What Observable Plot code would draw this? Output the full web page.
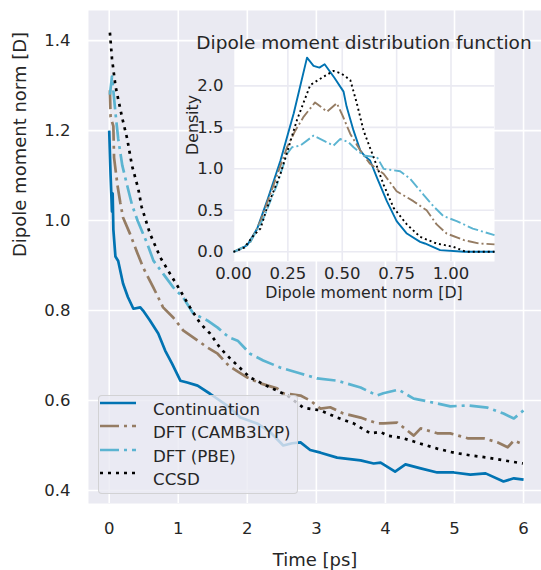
<!DOCTYPE html>
<html>
<head>
<meta charset="utf-8">
<script src="https://cdn.jsdelivr.net/npm/d3@7"></script>
<script src="https://cdn.jsdelivr.net/npm/@observablehq/plot@0.6"></script>
<style>
  body { margin: 0; background: #ffffff; font-family: "DejaVu Sans", sans-serif; }
  #chart { position: relative; width: 541px; height: 570px; overflow: hidden; }
  #chart svg { position: absolute; left: 0; top: 0; }
  .legend {
    position: absolute; left: 98px; top: 395px; width: 200px; height: 99px;
    box-sizing: border-box; background: rgba(234, 234, 242, 0.8);
    border: 1px solid rgba(204, 204, 204, 0.8); border-radius: 4px;
  }
  .legend .row { position: absolute; left: 0; height: 22px; width: 100%; }
  .legend .row svg { position: absolute; left: 5px; top: 6px; }
  .legend .row span {
    position: absolute; left: 54px; top: 0; line-height: 22px;
    font-size: 16.7px; color: #262626; white-space: nowrap;
  }
</style>
</head>
<body>
<div id="chart"></div>
<script>
// Dipole moment norm [D] over time [ps], one [time, value] pair per point
const continuation = [
  [0.0, 1.20], [0.02, 1.10], [0.04, 1.02], [0.05, 1.06], [0.06, 0.98], [0.09, 0.92],
  [0.13, 0.91], [0.20, 0.86], [0.27, 0.83], [0.35, 0.804], [0.45, 0.807], [0.49, 0.80],
  [0.59, 0.778], [0.71, 0.749], [0.81, 0.711], [0.91, 0.682], [1.03, 0.644], [1.13, 0.64],
  [1.28, 0.633], [1.46, 0.615], [1.75, 0.584], [1.90, 0.562], [2.14, 0.549], [2.33, 0.53],
  [2.52, 0.50], [2.65, 0.505], [2.77, 0.507], [2.91, 0.49], [3.06, 0.484], [3.30, 0.473],
  [3.64, 0.467], [3.83, 0.46], [3.93, 0.462], [4.14, 0.442], [4.29, 0.458], [4.51, 0.449],
  [4.75, 0.44], [4.99, 0.44], [5.23, 0.435], [5.45, 0.438], [5.71, 0.42], [5.86, 0.427],
  [6.0, 0.424]
];
const dftCamb3lyp = [
  [0.01, 1.29], [0.02, 1.23], [0.06, 1.21], [0.07, 1.14], [0.12, 1.078], [0.16, 1.04],
  [0.20, 1.007], [0.30, 0.971], [0.41, 0.927], [0.49, 0.896], [0.64, 0.851], [0.78, 0.807],
  [0.93, 0.784], [1.07, 0.756], [1.22, 0.74], [1.42, 0.718], [1.57, 0.704], [1.74, 0.676],
  [2.00, 0.651], [2.19, 0.638], [2.43, 0.627], [2.52, 0.616], [2.77, 0.611], [2.91, 0.60],
  [3.06, 0.582], [3.20, 0.585], [3.39, 0.571], [3.64, 0.562], [3.88, 0.549], [3.97, 0.549],
  [4.17, 0.551], [4.41, 0.522], [4.51, 0.538], [4.75, 0.527], [4.94, 0.527], [5.19, 0.516],
  [5.42, 0.516], [5.62, 0.507], [5.77, 0.496], [5.86, 0.511], [6.0, 0.502]
];
const dftPbe = [
  [0.01, 1.28], [0.04, 1.32], [0.09, 1.24], [0.13, 1.182], [0.19, 1.122], [0.26, 1.078],
  [0.33, 1.035], [0.41, 1.0], [0.55, 0.949], [0.64, 0.911], [0.78, 0.882], [0.93, 0.851],
  [1.07, 0.829], [1.22, 0.793], [1.42, 0.778], [1.57, 0.762], [1.65, 0.751], [1.74, 0.74],
  [1.86, 0.733], [2.04, 0.704], [2.23, 0.689], [2.48, 0.673], [2.77, 0.66], [3.01, 0.649],
  [3.30, 0.644], [3.64, 0.629], [3.88, 0.611], [3.97, 0.616], [4.19, 0.624], [4.41, 0.604],
  [4.61, 0.598], [4.94, 0.587], [5.19, 0.589], [5.48, 0.584], [5.71, 0.571], [5.86, 0.56],
  [6.0, 0.578]
];
const ccsd = [
  [0.01, 1.418], [0.04, 1.36], [0.09, 1.30], [0.13, 1.27], [0.19, 1.227], [0.26, 1.182],
  [0.33, 1.122], [0.42, 1.071], [0.47, 1.03], [0.59, 0.971], [0.74, 0.918], [0.88, 0.882],
  [1.03, 0.844], [1.17, 0.807], [1.32, 0.771], [1.46, 0.749], [1.61, 0.716], [1.76, 0.692],
  [2.04, 0.651], [2.33, 0.629], [2.58, 0.611], [2.81, 0.584], [3.06, 0.578], [3.30, 0.562],
  [3.54, 0.549], [3.78, 0.527], [3.93, 0.53], [4.03, 0.522], [4.26, 0.516], [4.51, 0.504],
  [4.75, 0.493], [4.99, 0.484], [5.23, 0.478], [5.48, 0.473], [5.71, 0.467], [5.99, 0.46]
];

// Density of the dipole moment norm, one [norm, density] pair per point
const continuationKde = [
  [0, 0], [0.03, 0.03], [0.063, 0.08], [0.109, 0.28], [0.154, 0.61], [0.216, 1.10],
  [0.277, 1.67], [0.338, 2.34], [0.368, 2.24], [0.395, 2.22], [0.419, 2.26], [0.463, 2.10],
  [0.506, 1.93], [0.52, 1.75], [0.552, 1.46], [0.583, 1.22], [0.605, 1.15], [0.628, 1.10],
  [0.66, 0.89], [0.705, 0.61], [0.75, 0.37], [0.797, 0.22], [0.858, 0.12], [0.88, 0.10],
  [0.95, 0.02], [1.06, 0.0], [1.2, 0.0]
];
const camb3lypKde = [
  [0, 0], [0.04, 0.05], [0.078, 0.12], [0.124, 0.37], [0.185, 0.81], [0.246, 1.26],
  [0.284, 1.46], [0.323, 1.63], [0.375, 1.80], [0.43, 1.69], [0.475, 1.79], [0.5, 1.65],
  [0.537, 1.42], [0.583, 1.22], [0.628, 1.06], [0.69, 0.94], [0.75, 0.73], [0.827, 0.61],
  [0.888, 0.50], [0.934, 0.33], [0.98, 0.22], [1.06, 0.14], [1.13, 0.10], [1.2, 0.09]
];
const pbeKde = [
  [0, 0], [0.04, 0.05], [0.078, 0.12], [0.139, 0.41], [0.2, 0.81], [0.246, 1.18],
  [0.269, 1.26], [0.307, 1.28], [0.368, 1.40], [0.414, 1.34], [0.46, 1.28], [0.491, 1.36],
  [0.529, 1.32], [0.552, 1.26], [0.598, 1.16], [0.66, 1.14], [0.69, 1.0], [0.766, 0.97],
  [0.812, 0.88], [0.873, 0.69], [0.919, 0.55], [0.965, 0.43], [1.026, 0.37], [1.1, 0.28],
  [1.2, 0.20]
];
const ccsdKde = [
  [0, 0], [0.05, 0.05], [0.093, 0.2], [0.124, 0.28], [0.154, 0.53], [0.216, 0.94],
  [0.292, 1.59], [0.353, 2.01], [0.414, 2.11], [0.46, 2.18], [0.495, 2.15], [0.537, 2.07],
  [0.567, 1.79], [0.598, 1.46], [0.644, 1.14], [0.69, 0.81], [0.736, 0.53], [0.797, 0.33],
  [0.858, 0.18], [0.934, 0.10], [1.01, 0.06], [1.07, 0.0], [1.2, 0.0]
];

// Tick values
const timeTicks = [0, 1, 2, 3, 4, 5, 6];
const momentTicks = [0.4, 0.6, 0.8, 1.0, 1.2, 1.4];
const normTicks = [0, 0.25, 0.5, 0.75, 1.0];
const densityTicks = [0, 0.5, 1.0, 1.5, 2.0];

// Series names and styles
const seriesNames = ["Continuation", "DFT (CAMB3LYP)", "DFT (PBE)", "CCSD"];
const seriesColors = ["#0173b2", "#957c63", "#5bb4d1", "#000000"];
const mainDash = [null, "19,5,3,5", "19,5,3,5", "3,5"];
const insetDash = [null, "11,3,2,3", "11,3,2,3", "2,3"];
const timeSeries = [continuation, dftCamb3lyp, dftPbe, ccsd];
const kdeSeries = [continuationKde, camb3lypKde, pbeKde, ccsdKde];

const ink = "#262626";
const font = "DejaVu Sans";

function lineMarks(seriesList, dashes, width) {
  return seriesList.map((data, i) => Plot.line(data, {
    x: d => d[0], y: d => d[1],
    stroke: seriesColors[i], strokeWidth: width,
    strokeDasharray: dashes[i] ?? undefined,
    strokeLinecap: "butt", strokeLinejoin: "round",
    curve: "linear"
  }));
}

// Time series on the dark grid
const main = Plot.plot({
  width: 541, height: 570,
  marginLeft: 88, marginRight: 0, marginTop: 10, marginBottom: 67,
  style: {fontFamily: font, fontSize: "16.5px", color: ink, background: "transparent", overflow: "visible"},
  x: {domain: [-0.3, 6.26]},
  y: {domain: [0.371, 1.467]},
  marks: [
    Plot.frame({fill: "#eaeaf2", stroke: null}),
    Plot.gridX(timeTicks, {stroke: "#ffffff", strokeOpacity: 1, strokeWidth: 1.6}),
    Plot.gridY(momentTicks, {stroke: "#ffffff", strokeOpacity: 1, strokeWidth: 1.6}),
    Plot.axisX(timeTicks, {tickSize: 0, tickPadding: 19, label: null, tickFormat: d => String(d), fill: ink}),
    Plot.axisY(momentTicks, {tickSize: 0, tickPadding: 18, label: null, tickFormat: d3.format(".1f"), fill: ink}),
    Plot.text(["Time [ps]"], {frameAnchor: "bottom", dy: 62, fontSize: 18, fill: ink}),
    Plot.text(["Dipole moment norm [D]"], {frameAnchor: "left", dx: -68, rotate: -90, fontSize: 18, fill: ink}),
    ...lineMarks(timeSeries, mainDash, 2.7)
  ]
});

// Inset: density of the dipole moment norm
const inset = Plot.plot({
  width: 541, height: 320,
  marginLeft: 233, marginRight: 47, marginTop: 48, marginBottom: 59,
  style: {fontFamily: font, fontSize: "16.5px", color: ink, background: "transparent", overflow: "visible"},
  x: {domain: [0, 1.2]},
  y: {domain: [-0.117, 2.45]},
  marks: [
    Plot.frame({fill: "#ffffff", stroke: null}),
    Plot.gridX(normTicks, {stroke: "#eaeaf2", strokeOpacity: 1, strokeWidth: 1.6}),
    Plot.gridY(densityTicks, {stroke: "#eaeaf2", strokeOpacity: 1, strokeWidth: 1.6}),
    Plot.axisX(normTicks, {tickSize: 0, tickPadding: 6, label: null, tickFormat: d3.format(".2f"), fill: ink}),
    Plot.axisY(densityTicks, {tickSize: 0, tickPadding: 10, label: null, tickFormat: d3.format(".1f"), fill: ink}),
    Plot.text(["Dipole moment distribution function"], {frameAnchor: "top", dy: -13, fontSize: 18.5, fill: ink}),
    Plot.text(["Dipole moment norm [D]"], {frameAnchor: "bottom", dy: 36, fontSize: 15.8, fill: ink}),
    Plot.text(["Density"], {frameAnchor: "left", dx: -41, rotate: -90, fontSize: 15.8, fill: ink}),
    ...lineMarks(kdeSeries, insetDash, 1.9)
  ]
});

const chart = document.getElementById("chart");
chart.appendChild(main);

// Legend for the time series
const legend = document.createElement("div");
legend.className = "legend";
seriesNames.forEach((name, i) => {
  const row = document.createElement("div");
  row.className = "row";
  row.style.top = (2 + i * 23.3) + "px";
  const svg = d3.create("svg").attr("width", 38).attr("height", 10);
  svg.append("line")
    .attr("x1", 1).attr("x2", 37).attr("y1", 5).attr("y2", 5)
    .attr("stroke", seriesColors[i]).attr("stroke-width", 2.7)
    .attr("stroke-dasharray", mainDash[i]).attr("stroke-linecap", "butt");
  row.appendChild(svg.node());
  const label = document.createElement("span");
  label.textContent = name;
  row.appendChild(label);
  legend.appendChild(row);
});
chart.appendChild(legend);

chart.appendChild(inset);
</script>
</body>
</html>
